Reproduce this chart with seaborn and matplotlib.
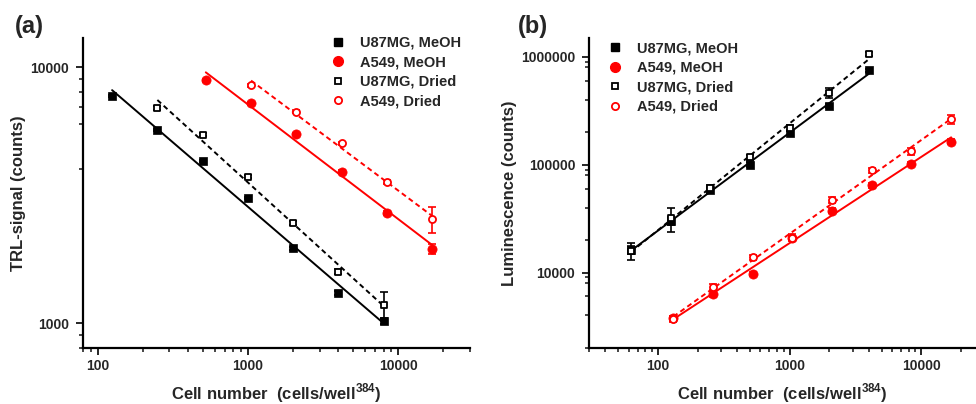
import numpy as np
import pandas as pd
import matplotlib
matplotlib.use("Agg")
import matplotlib.pyplot as plt
import matplotlib.ticker as mtick
from matplotlib.lines import Line2D
import seaborn as sns

sns.set_theme(style="ticks")
plt.rcParams['font.family'] = ['Liberation Sans', 'DejaVu Sans']
plt.rcParams['font.weight'] = 'bold'
plt.rcParams['axes.labelweight'] = 'bold'
plt.rcParams['mathtext.fontset'] = 'custom'
plt.rcParams['mathtext.rm'] = 'Liberation Sans:bold'
plt.rcParams['mathtext.bf'] = 'Liberation Sans:bold'

PRETO = "black"
VERMELHO = "#ff0000"

#%% dados painel (a) - TRL-signal
cel_u87_a = [125, 250, 500, 1000, 2000, 4000, 8000]
trl_u87_meoh = [7700, 5700, 4300, 3070, 1960, 1310, 1020]
trl_u87_meoh_err = [60, 50, 40, 30, 25, 20, 25]

cel_u87_seco_a = [250, 500, 1000, 2000, 4000, 8000]
trl_u87_seco = [6950, 5450, 3730, 2460, 1590, 1180]
trl_u87_seco_err = [120, 60, 50, 40, 40, 140]

cel_a549_a = [525, 1050, 2100, 4200, 8400, 16800]
trl_a549_meoh = [8870, 7210, 5470, 3900, 2690, 1950]
trl_a549_meoh_err = [100, 80, 60, 50, 50, 90]

cel_a549_seco_a = [1050, 2100, 4200, 8400, 16800]
trl_a549_seco = [8500, 6700, 5050, 3550, 2550]
trl_a549_seco_err = [120, 90, 70, 60, 300]

#%% dados painel (b) - Luminescencia
cel_u87_b = [62.5, 125, 250, 500, 1000, 2000, 4000]
lum_u87_meoh = [16300, 30000, 57700, 100000, 197000, 353000, 751000]
lum_u87_meoh_err = [1500, 2500, 3000, 5000, 9000, 15000, 25000]
lum_u87_seco = [16000, 32000, 60800, 117000, 219000, 463000, 1070000]
lum_u87_seco_err = [2900, 8000, 4000, 6000, 15000, 50000, 40000]

cel_a549_b = [131, 262, 525, 1050, 2100, 4200, 8400, 16800]
lum_a549_meoh = [3750, 6300, 9700, 20900, 37400, 64300, 102000, 164000]
lum_a549_meoh_err = [200, 400, 500, 1000, 2000, 3000, 5000, 8000]
lum_a549_seco = [3700, 7400, 13800, 21100, 47300, 88500, 133000, 265000]
lum_a549_seco_err = [250, 500, 800, 1500, 3000, 5000, 10000, 25000]

rotulos = ["U87MG, MeOH", "A549, MeOH", "U87MG, Dried", "A549, Dried"]


def ajuste(ax, x, y, cor, estilo):
    # reta de ajuste em escala log-log
    lx, ly = np.log10(x), np.log10(y)
    coef = np.polyfit(lx, ly, 1)
    xs = np.array([min(x), max(x)])
    ys = 10 ** np.polyval(coef, np.log10(xs))
    sns.lineplot(x=xs, y=ys, ax=ax, color=cor, linewidth=1.4,
                 linestyle=estilo, zorder=2)


def pontos(ax, x, y, err, cor, marcador, aberto):
    ax.errorbar(x, y, yerr=err, fmt='none', ecolor=cor, elinewidth=1.2,
                capsize=3, capthick=1.2, zorder=3)
    if aberto:
        s = 18 if marcador == 's' else 26
        sns.scatterplot(x=x, y=y, ax=ax, marker=marcador, s=s, color='white',
                        edgecolor=cor, linewidth=1.3, zorder=4)
    else:
        s = 34 if marcador == 's' else 44
        sns.scatterplot(x=x, y=y, ax=ax, marker=marcador, s=s, color=cor,
                        edgecolor=cor, linewidth=0.5, zorder=4)


def eixos(ax, xlim, ylim, subs_y, ylabel):
    ax.set_xscale('log')
    ax.set_yscale('log')
    ax.set_xlim(*xlim)
    ax.set_ylim(*ylim)
    fmt = mtick.FuncFormatter(lambda v, _: f'{v:.0f}')
    ax.xaxis.set_major_locator(mtick.LogLocator(base=10))
    ax.yaxis.set_major_locator(mtick.LogLocator(base=10))
    ax.xaxis.set_minor_locator(mtick.LogLocator(base=10, subs=np.arange(2, 10)))
    ax.yaxis.set_minor_locator(mtick.LogLocator(base=10, subs=subs_y))
    ax.xaxis.set_major_formatter(fmt)
    ax.yaxis.set_major_formatter(fmt)
    ax.xaxis.set_minor_formatter(mtick.NullFormatter())
    ax.yaxis.set_minor_formatter(mtick.NullFormatter())
    ax.tick_params(which='major', direction='out', length=5, width=1.4,
                   labelsize=10, pad=3)
    ax.tick_params(axis='y', which='major', pad=5)
    ax.tick_params(which='minor', direction='out', length=3, width=1.2)
    for lado in ['top', 'right']:
        ax.spines[lado].set_visible(False)
    for lado in ['left', 'bottom']:
        ax.spines[lado].set_linewidth(1.6)
        ax.spines[lado].set_color('black')
    ax.grid(False)
    ax.set_xlabel(r"Cell number  (cells/well$^{\mathbf{384}}$)", fontsize=12,
                  labelpad=6)
    ax.set_ylabel(ylabel, fontsize=12, labelpad=3)


def legenda(ax, ancora):
    alcas = [
        Line2D([], [], ls='none', marker='s', ms=6, color=PRETO),
        Line2D([], [], ls='none', marker='o', ms=7, color=VERMELHO),
        Line2D([], [], ls='none', marker='s', ms=4.5, mfc='white', mec=PRETO, mew=1.3),
        Line2D([], [], ls='none', marker='o', ms=5.2, mfc='white', mec=VERMELHO, mew=1.3),
    ]
    ax.legend(alcas, rotulos, loc='upper left', bbox_to_anchor=ancora,
              frameon=False, fontsize=10.5, handlelength=1.0,
              handletextpad=1.0, labelspacing=0.38, borderpad=0,
              borderaxespad=0)


#%% figura
fig = plt.figure(figsize=(9.76, 4.04), dpi=100)
ax_a = fig.add_axes([0.085, 0.139, 0.3965, 0.767])
ax_b = fig.add_axes([0.6035, 0.139, 0.3955, 0.767])

eixos(ax_a, (80, 30000), (800, 13000), (4, 6, 7, 8, 9), "TRL-signal (counts)")
eixos(ax_b, (30, 25500), (2000, 1.5e6), (2, 4, 6, 8, 9), "Luminescence (counts)")

# painel (a)
ajuste(ax_a, cel_u87_a, trl_u87_meoh, PRETO, '-')
ajuste(ax_a, cel_u87_seco_a, trl_u87_seco, PRETO, (0, (2.6, 1.8)))
ajuste(ax_a, cel_a549_a, trl_a549_meoh, VERMELHO, '-')
ajuste(ax_a, cel_a549_seco_a, trl_a549_seco, VERMELHO, (0, (2.6, 1.8)))
pontos(ax_a, cel_u87_a, trl_u87_meoh, trl_u87_meoh_err, PRETO, 's', False)
pontos(ax_a, cel_a549_a, trl_a549_meoh, trl_a549_meoh_err, VERMELHO, 'o', False)
pontos(ax_a, cel_u87_seco_a, trl_u87_seco, trl_u87_seco_err, PRETO, 's', True)
pontos(ax_a, cel_a549_seco_a, trl_a549_seco, trl_a549_seco_err, VERMELHO, 'o', True)

# painel (b)
ajuste(ax_b, cel_u87_b, lum_u87_meoh, PRETO, '-')
ajuste(ax_b, cel_u87_b, lum_u87_seco, PRETO, (0, (2.6, 1.8)))
ajuste(ax_b, cel_a549_b, lum_a549_meoh, VERMELHO, '-')
ajuste(ax_b, cel_a549_b, lum_a549_seco, VERMELHO, (0, (2.6, 1.8)))
pontos(ax_b, cel_u87_b, lum_u87_meoh, lum_u87_meoh_err, PRETO, 's', False)
pontos(ax_b, cel_a549_b, lum_a549_meoh, lum_a549_meoh_err, VERMELHO, 'o', False)
pontos(ax_b, cel_u87_b, lum_u87_seco, lum_u87_seco_err, PRETO, 's', True)
pontos(ax_b, cel_a549_b, lum_a549_seco, lum_a549_seco_err, VERMELHO, 'o', True)

legenda(ax_a, (0.64, 1.007))
legenda(ax_b, (0.048, 0.99))

fig.text(0.015, 0.935, "(a)", fontsize=17, fontweight='bold', va='center')
fig.text(0.531, 0.935, "(b)", fontsize=17, fontweight='bold', va='center')

fig.savefig("out.png", dpi=100)
